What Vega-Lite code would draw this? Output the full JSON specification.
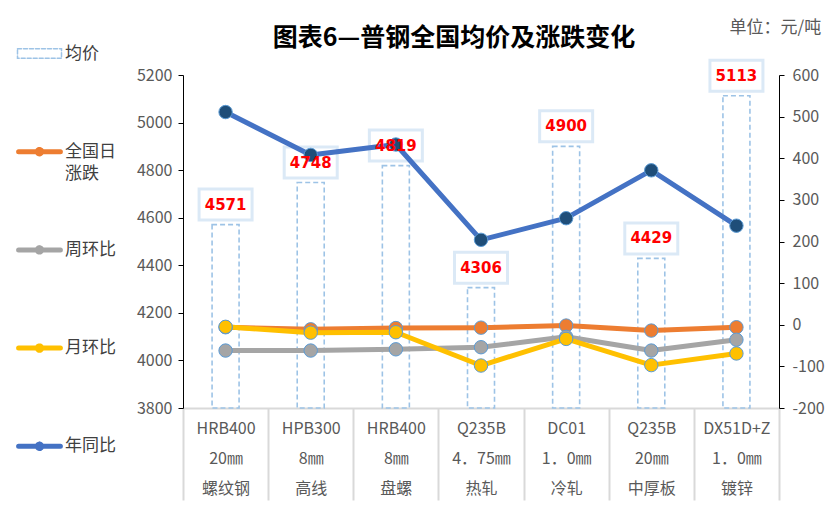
{
  "$schema": "https://vega.github.io/schema/vega-lite/v6.json",
  "width": 596,
  "height": 333,
  "autosize": "none",
  "padding": {"left": 183, "top": 75, "right": 60, "bottom": 109},
  "background": "white",
  "config": {"view": {"stroke": null}, "font": "Noto Sans CJK SC"},
  "title": {"text": "图表6—普钢全国均价及涨跌变化", "fontSize": 25, "fontWeight": "bold", "color": "#000000", "font": "Noto Sans CJK SC", "anchor": "middle", "frame": "group", "dx": -27, "dy": 53, "offset": 20},
  "datasets": {
    "bars": [
      {"cat": "HRB400|20㎜|螺纹钢", "price": 4571},
      {"cat": "HPB300|8㎜|高线", "price": 4748},
      {"cat": "HRB400|8㎜|盘螺", "price": 4819},
      {"cat": "Q235B|4．75㎜|热轧", "price": 4306},
      {"cat": "DC01|1．0㎜|冷轧", "price": 4900},
      {"cat": "Q235B|20㎜|中厚板", "price": 4429},
      {"cat": "DX51D+Z|1．0㎜|镀锌", "price": 5113}
    ],
    "lines": [
      {"cat": "HRB400|20㎜|螺纹钢", "series": "全国日涨跌", "value": -6},
      {"cat": "HPB300|8㎜|高线", "series": "全国日涨跌", "value": -11},
      {"cat": "HRB400|8㎜|盘螺", "series": "全国日涨跌", "value": -8},
      {"cat": "Q235B|4．75㎜|热轧", "series": "全国日涨跌", "value": -7},
      {"cat": "DC01|1．0㎜|冷轧", "series": "全国日涨跌", "value": -2},
      {"cat": "Q235B|20㎜|中厚板", "series": "全国日涨跌", "value": -14},
      {"cat": "DX51D+Z|1．0㎜|镀锌", "series": "全国日涨跌", "value": -6},
      {"cat": "HRB400|20㎜|螺纹钢", "series": "周环比", "value": -62},
      {"cat": "HPB300|8㎜|高线", "series": "周环比", "value": -62},
      {"cat": "HRB400|8㎜|盘螺", "series": "周环比", "value": -59},
      {"cat": "Q235B|4．75㎜|热轧", "series": "周环比", "value": -54},
      {"cat": "DC01|1．0㎜|冷轧", "series": "周环比", "value": -29},
      {"cat": "Q235B|20㎜|中厚板", "series": "周环比", "value": -62},
      {"cat": "DX51D+Z|1．0㎜|镀锌", "series": "周环比", "value": -36},
      {"cat": "HRB400|20㎜|螺纹钢", "series": "月环比", "value": -5},
      {"cat": "HPB300|8㎜|高线", "series": "月环比", "value": -19},
      {"cat": "HRB400|8㎜|盘螺", "series": "月环比", "value": -18},
      {"cat": "Q235B|4．75㎜|热轧", "series": "月环比", "value": -98},
      {"cat": "DC01|1．0㎜|冷轧", "series": "月环比", "value": -34},
      {"cat": "Q235B|20㎜|中厚板", "series": "月环比", "value": -97},
      {"cat": "DX51D+Z|1．0㎜|镀锌", "series": "月环比", "value": -69},
      {"cat": "HRB400|20㎜|螺纹钢", "series": "年同比", "value": 511},
      {"cat": "HPB300|8㎜|高线", "series": "年同比", "value": 408},
      {"cat": "HRB400|8㎜|盘螺", "series": "年同比", "value": 433},
      {"cat": "Q235B|4．75㎜|热轧", "series": "年同比", "value": 204},
      {"cat": "DC01|1．0㎜|冷轧", "series": "年同比", "value": 256},
      {"cat": "Q235B|20㎜|中厚板", "series": "年同比", "value": 371},
      {"cat": "DX51D+Z|1．0㎜|镀锌", "series": "年同比", "value": 238}
    ]
  },
  "encoding": {
    "x": {
      "field": "cat", "type": "nominal", "title": null,
      "scale": {"domain": ["HRB400|20㎜|螺纹钢", "HPB300|8㎜|高线", "HRB400|8㎜|盘螺", "Q235B|4．75㎜|热轧", "DC01|1．0㎜|冷轧", "Q235B|20㎜|中厚板", "DX51D+Z|1．0㎜|镀锌"], "paddingInner": 0, "paddingOuter": 0},
      "axis": {
        "labelAngle": 0, "labelExpr": "split(datum.label, '|')", "labelLineHeight": 30,
        "labelFontSize": 16, "labelColor": "#595959", "labelFont": "Noto Sans CJK SC",
        "labelPadding": -80, "labelBaseline": "top", "labelOverlap": false, "labelBound": false,
        "domainColor": "#D9D9D9", "domainWidth": 2,
        "tickColor": "#D9D9D9", "tickWidth": 2, "tickSize": 92, "tickBand": "extent"
      }
    }
  },
  "layer": [
    {
      "data": {"name": "bars"},
      "layer": [
        {
          "mark": {"type": "bar", "filled": false, "strokeDash": [5, 3], "strokeWidth": 1.6, "width": 27},
          "encoding": {
            "y": {"field": "price", "type": "quantitative", "title": null,
              "scale": {"domain": [3800, 5200], "zero": false, "nice": false},
              "axis": {"orient": "left", "values": [3800, 4000, 4200, 4400, 4600, 4800, 5000, 5200], "grid": false,
                "labelExpr": "'' + datum.value",
                "domainColor": "#000000", "tickColor": "#000000", "tickSize": 5,
                "labelFontSize": 16, "labelColor": "#595959", "labelPadding": 6}},
            "y2": {"datum": 3800},
            "color": {"datum": "均价", "type": "nominal", "title": null,
              "scale": {"domain": ["均价", "全国日涨跌", "周环比", "月环比", "年同比"], "range": ["#9DC3E6", "#ED7D31", "#A5A5A5", "#FFC000", "#4472C4"]},
              "legend": {
                "orient": "none", "legendX": -152, "legendY": -30, "direction": "vertical", "columns": 1,
                "title": null, "padding": 0, "rowPadding": 55.2, "gridAlign": "all",
                "labelFontSize": 17, "labelColor": "#404040", "labelFont": "Noto Sans CJK SC", "labelOffset": 17,
                "labelExpr": "datum.label == '全国日涨跌' ? ['全国日', '涨跌'] : datum.label",
                "encode": {
                  "labels": {"update": {"lineHeight": {"value": 22}}},
                  "symbols": {"update": {
                    "shape": {"signal": "datum.value === '均价' ? 'M-1,-0.22H1V0.22H-1Z' : 'M-0.95,0H0.95M-0.1,0A0.1,0.1,0,1,1,0.1,0A0.1,0.1,0,1,1,-0.1,0Z'"},
                    "strokeDash": {"signal": "datum.value === '均价' ? [4, 2] : [1, 0]"},
                    "fill": {"signal": "datum.value === '均价' ? 'transparent' : scale('color', datum.value)"},
                    "stroke": {"signal": "scale('color', datum.value)"},
                    "strokeWidth": {"signal": "datum.value === '均价' ? 1.5 : 5"},
                    "strokeCap": {"value": "round"},
                    "opacity": {"value": 1},
                    "size": {"value": 1936}
                  }}
                }
              }}
          }
        },
        {
          "mark": {"type": "point", "shape": "M-1,-0.56H1V0.56H-1Z", "size": 2500, "filled": true, "fill": "#FFFFFF", "opacity": 1, "stroke": "#BDD7EE", "strokeOpacity": 0.55, "strokeWidth": 6, "yOffset": -20},
          "encoding": {"y": {"field": "price", "type": "quantitative", "title": null}}
        },
        {
          "mark": {"type": "point", "shape": "M-1,-0.56H1V0.56H-1Z", "size": 2500, "filled": true, "fill": "#FFFFFF", "opacity": 1, "strokeWidth": 0, "yOffset": -20},
          "encoding": {"y": {"field": "price", "type": "quantitative", "title": null}}
        }
      ]
    },
    {
      "data": {"name": "lines"},
      "layer": [
        {
          "mark": {"type": "line", "strokeWidth": 5, "strokeJoin": "round"},
          "encoding": {
            "y": {"field": "value", "type": "quantitative", "title": "单位：元/吨",
              "scale": {"domain": [-200, 600], "nice": false},
              "axis": {"orient": "right", "values": [-200, -100, 0, 100, 200, 300, 400, 500, 600], "grid": false,
                "labelExpr": "'' + datum.value",
                "domainColor": "#000000", "tickColor": "#000000", "tickSize": 5,
                "labelFontSize": 16, "labelColor": "#595959", "labelPadding": 8,
                "titleAngle": 0, "titleX": -50, "titleY": -48, "titleAlign": "left", "titleBaseline": "middle",
                "titleFontWeight": "normal", "titleFontSize": 17, "titleColor": "#595959", "titleFont": "Noto Sans CJK SC"}},
            "color": {"field": "series", "type": "nominal", "title": null,
              "legend": {
                "orient": "none", "legendX": -152, "legendY": -30, "direction": "vertical", "columns": 1,
                "title": null, "padding": 0, "rowPadding": 55.2, "gridAlign": "all",
                "labelFontSize": 17, "labelColor": "#404040", "labelFont": "Noto Sans CJK SC", "labelOffset": 17,
                "labelExpr": "datum.label == '全国日涨跌' ? ['全国日', '涨跌'] : datum.label",
                "encode": {
                  "labels": {"update": {"lineHeight": {"value": 22}}},
                  "symbols": {"update": {
                    "shape": {"signal": "datum.value === '均价' ? 'M-1,-0.22H1V0.22H-1Z' : 'M-0.95,0H0.95M-0.1,0A0.1,0.1,0,1,1,0.1,0A0.1,0.1,0,1,1,-0.1,0Z'"},
                    "strokeDash": {"signal": "datum.value === '均价' ? [4, 2] : [1, 0]"},
                    "fill": {"signal": "datum.value === '均价' ? 'transparent' : scale('color', datum.value)"},
                    "stroke": {"signal": "scale('color', datum.value)"},
                    "strokeWidth": {"signal": "datum.value === '均价' ? 1.5 : 5"},
                    "strokeCap": {"value": "round"},
                    "opacity": {"value": 1},
                    "size": {"value": 1936}
                  }}
                }
              }}
          }
        },
        {
          "mark": {"type": "point", "filled": true, "size": 180, "opacity": 1, "stroke": "#5B9BD5", "strokeWidth": 1},
          "encoding": {
            "y": {"field": "value", "type": "quantitative", "title": "单位：元/吨"},
            "fill": {"field": "series", "type": "nominal", "legend": null,
              "scale": {"domain": ["全国日涨跌", "周环比", "月环比", "年同比"], "range": ["#ED7D31", "#A5A5A5", "#FFC000", "#1F4E79"]}}
          }
        }
      ]
    },
    {
      "data": {"name": "bars"},
      "mark": {"type": "text", "font": "DejaVu Sans", "fontWeight": "bold", "fontSize": 15, "color": "#FF0000", "baseline": "middle", "yOffset": -20},
      "encoding": {
        "y": {"field": "price", "type": "quantitative", "scale": {"domain": [3800, 5200], "zero": false, "nice": false}, "axis": null},
        "text": {"field": "price", "type": "quantitative", "format": "d"}
      }
    }
  ],
  "resolve": {"scale": {"y": "independent"}, "axis": {"y": "independent"}}
}
